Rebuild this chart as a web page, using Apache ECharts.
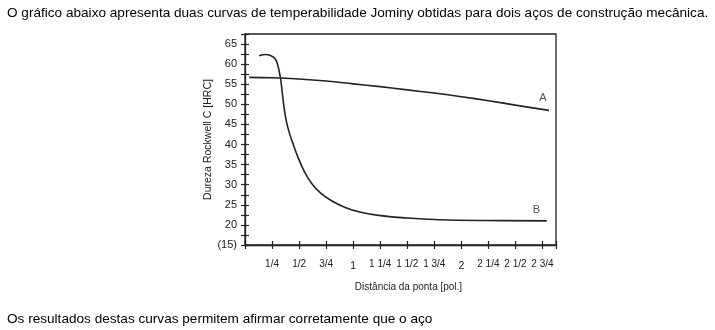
<!DOCTYPE html>
<html>
<head>
<meta charset="utf-8">
<script src="https://cdn.jsdelivr.net/npm/echarts@6/dist/echarts.min.js"></script>
<style>
html,body{margin:0;padding:0;background:#fff;}
#c{width:715px;height:330px;}
</style>
</head>
<body>
<div id="c"></div>
<script>
// Distance from quenched end [in] and hardness [HRC]
const curveA_x = [0.04, 0.25, 0.5, 0.75, 1.0, 1.25, 1.5, 1.75, 2.0, 2.25, 2.5, 2.81];
const curveA_y = [56.7, 56.6, 56.3, 55.8, 55.1, 54.4, 53.6, 52.8, 51.9, 50.9, 49.8, 48.5];
const curveB_x = [0.13, 0.19, 0.24, 0.28, 0.30, 0.315, 0.33, 0.34, 0.35, 0.36, 0.375, 0.39, 0.41, 0.44, 0.49, 0.55, 0.62, 0.70, 0.80, 0.92, 1.06, 1.25, 1.5, 1.8, 2.2, 2.79];
const curveB_y = [62.1, 62.4, 62.1, 61.3, 60.0, 58.4, 56.2, 54.0, 51.6, 49.4, 46.8, 44.9, 42.9, 40.5, 36.8, 33.2, 30.2, 27.9, 26.0, 24.4, 23.2, 22.3, 21.7, 21.3, 21.1, 21.0];
const labelPts = [["A", 2.755, 51.6], ["B", 2.695, 23.8]];
const xTicks = {0.25:"1/4",0.5:"1/2",0.75:"3/4",1:"1",1.25:"1 1/4",1.5:"1 1/2",1.75:"1 3/4",2:"2",2.25:"2 1/4",2.5:"2 1/2",2.75:"2 3/4"};
const yLabels = {15:"(15)",20:"20",25:"25",30:"30",35:"35",40:"40",45:"45",50:"50",55:"55",60:"60",65:"65"};
const titleTop = "O gráfico abaixo apresenta duas curvas de temperabilidade Jominy obtidas para dois aços de construção mecânica.";
const titleBottom = "Os resultados destas curvas permitem afirmar corretamente que o aço";
const xName = "Distância da ponta [pol.]";
const yName = "Dureza Rockwell C [HRC]";

const FONT = "'Liberation Sans', Arial, sans-serif";
const INK = "#222";
const chart = echarts.init(document.getElementById('c'), null, {renderer: 'canvas'});

function zip(xs, ys){ return xs.map((x,i)=>[x, ys[i]]); }
function xFmt(v){
  const k = Math.round(v*100)/100;
  const s = xTicks[k];
  if (!s) return '';
  if (s.indexOf(' ') < 0 && s.indexOf('/') < 0) return '{w|' + s + '}';
  return s;
}

const xCommon = {type:'value', min:0, max:2.875, interval:0.25, splitLine:{show:false}};
const yCommon = {type:'value', min:15, max:67.5, interval:2.5, splitLine:{show:false}};

chart.setOption({
  animation:false,
  textStyle:{fontFamily:FONT},
  title:[
    {text:titleTop, left:2, top:1, textStyle:{fontSize:13.6, fontWeight:'normal', color:'#000', fontFamily:FONT}},
    {text:titleBottom, left:2, top:307, textStyle:{fontSize:13.6, fontWeight:'normal', color:'#000', fontFamily:FONT}}
  ],
  grid:{left:245, right:159, top:34, bottom:85, show:true, borderColor:INK, borderWidth:1.3, backgroundColor:'transparent'},
  xAxis:[
    Object.assign({}, xCommon, {
      position:'bottom',
      name:xName, nameLocation:'middle', nameGap:37,
      nameTextStyle:{fontSize:10, color:INK, fontFamily:FONT, padding:[0,0,0,16]},
      axisLine:{show:true, lineStyle:{color:INK, width:1.3}},
      axisTick:{show:true, length:4, lineStyle:{color:INK, width:1.2}},
      axisLabel:{show:true, margin:14, fontSize:10, color:INK, fontFamily:FONT, formatter:xFmt,
        rich:{w:{fontSize:10.5, color:INK, fontFamily:FONT, padding:[2,0,0,0]}}}
    }),
    Object.assign({}, xCommon, {
      position:'bottom',
      axisLine:{show:false},
      axisTick:{show:true, inside:true, length:4, lineStyle:{color:INK, width:1.2}},
      axisLabel:{show:false}
    })
  ],
  yAxis:[
    Object.assign({}, yCommon, {
      position:'left',
      name:yName, nameLocation:'middle', nameGap:31, nameRotate:90,
      nameTextStyle:{fontSize:10.5, color:INK, fontFamily:FONT},
      axisLine:{show:true, lineStyle:{color:INK, width:1.3}},
      axisTick:{show:true, length:4, lineStyle:{color:INK, width:1.2}},
      axisLabel:{show:true, margin:8, fontSize:11, color:INK, fontFamily:FONT,
        formatter:function(v){ return yLabels[Math.round(v*10)/10] || ''; }}
    }),
    Object.assign({}, yCommon, {
      position:'left',
      axisLine:{show:false},
      axisTick:{show:true, inside:true, length:4, lineStyle:{color:INK, width:1.2}},
      axisLabel:{show:false}
    })
  ],
  series:[
    {name:'A', type:'line', data:zip(curveA_x, curveA_y), smooth:0.4, symbol:'none',
     lineStyle:{color:INK, width:1.6}},
    {name:'B', type:'line', data:zip(curveB_x, curveB_y), smooth:0.4, symbol:'none',
     lineStyle:{color:INK, width:1.6}},
    {name:'labels', type:'scatter', symbolSize:0, data:labelPts.map(p=>({value:[p[1],p[2]], name:p[0]})),
     label:{show:true, position:'inside', formatter:'{b}', fontSize:11, color:INK, fontFamily:FONT}}
  ]
});
</script>
</body>
</html>
